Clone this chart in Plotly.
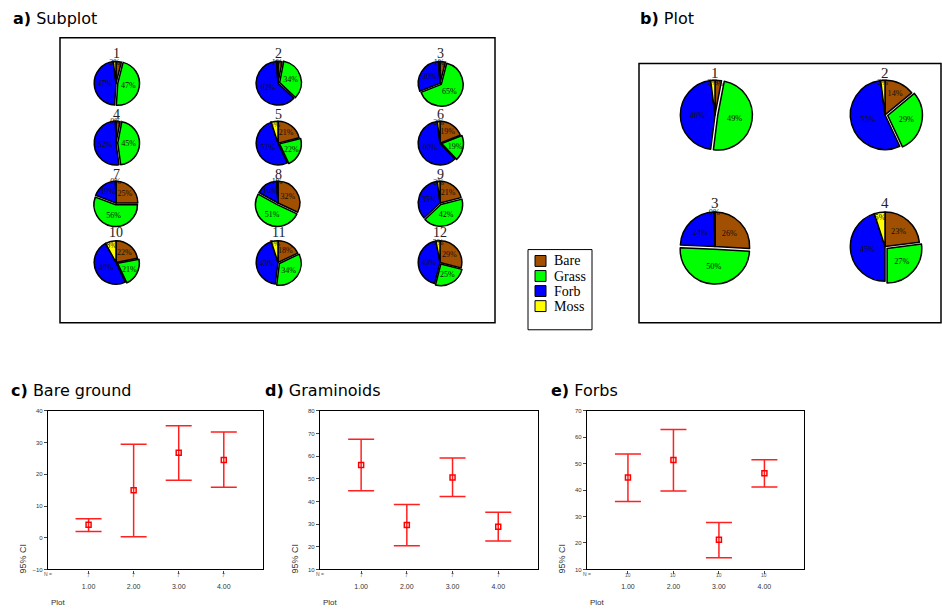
import plotly.graph_objects as go

W, H = 942, 613

# ---------------- data ----------------
cover_labels = ["Bare", "Grass", "Forb", "Moss"]
cover_colors = ["#A05000", "#00FF00", "#0000FF", "#FFFF00"]

subplot_ids = ["1", "2", "3", "4", "5", "6", "7", "8", "9", "10", "11", "12"]
sub_bare = [4, 3, 4, 3, 21, 19, 25, 32, 21, 22, 18, 29]
sub_grass = [47, 34, 65, 45, 22, 19, 56, 51, 42, 21, 34, 25]
sub_forb = [47, 62, 30, 52, 52, 60, 19, 16, 35, 49, 43, 43]
sub_moss = [2, 1, 1, 0.4, 5, 2, 0.4, 1, 2, 8, 5, 3]

plot_ids = ["1", "2", "3", "4"]
plot_bare = [3, 14, 26, 23]
plot_grass = [49, 29, 50, 27]
plot_forb = [46, 55, 24, 45]
plot_moss = [2, 2, 0.4, 5]

plot_cats = ["1.00", "2.00", "3.00", "4.00"]

bare_mean = [4.1, 15.0, 26.8, 24.5]
bare_low = [2.0, 0.3, 18.1, 15.9]
bare_high = [6.0, 29.5, 35.3, 33.4]
bare_n = [7, 7, 7, 7]

gram_mean = [56.1, 29.6, 50.6, 28.9]
gram_low = [44.7, 20.5, 42.2, 22.6]
gram_high = [67.5, 38.7, 59.2, 35.2]
gram_n = [7, 7, 7, 7]

forb_mean = [44.8, 51.4, 21.2, 46.4]
forb_low = [35.7, 39.7, 14.4, 41.2]
forb_high = [53.7, 63.0, 27.8, 51.5]
forb_n = [10, 10, 10, 10]

# ---------------- helpers ----------------
def px(x):
    return x / W

def py(y):
    return 1 - y / H

SERIF = "Liberation Serif"
SANS = "DejaVu Sans"
PULL = 0.08

fig = go.Figure()
annotations = []
shapes = []

def add_pie(cx, cy, r, vals, name, fsize):
    side = 2 * r * (1 + PULL)
    fig.add_trace(go.Pie(
        labels=cover_labels, values=vals, name=name,
        marker=dict(colors=cover_colors, line=dict(color="black", width=1.5)),
        sort=False, direction="clockwise", rotation=0,
        pull=[0, PULL, 0, 0],
        textinfo="percent", texttemplate="%{percent:.0%}",
        textposition="inside", insidetextorientation="horizontal",
        textfont=dict(family=SERIF, size=fsize, color="#111"),
        domain=dict(x=[px(cx - side / 2), px(cx + side / 2)],
                    y=[py(cy + side / 2), py(cy - side / 2)]),
        showlegend=False, hoverinfo="label+percent",
    ))

# subplot pies (panel a)
col_x = [116, 278, 440]
row_y = [81, 141.5, 202, 262]
lab_y = [51, 113, 173, 232]
for i, sid in enumerate(subplot_ids):
    r_i, c_i = divmod(i, 3)
    vals = [sub_bare[i], sub_grass[i], sub_forb[i], sub_moss[i]]
    add_pie(col_x[c_i], row_y[r_i], 22, vals, "Subplot " + sid, 8)
    annotations.append(dict(x=px(col_x[c_i]), y=py(lab_y[r_i]), xref="paper", yref="paper",
                            text=sid, showarrow=False, xanchor="center", yanchor="middle",
                            font=dict(family=SERIF, size=14, color="#222")))

# plot pies (panel b)
bx = [715, 885]
by = [113, 246]
blab = [71, 202]
for i, pid in enumerate(plot_ids):
    r_i, c_i = divmod(i, 2)
    vals = [plot_bare[i], plot_grass[i], plot_forb[i], plot_moss[i]]
    add_pie(bx[c_i], by[r_i], 35, vals, "Plot " + pid, 9)
    annotations.append(dict(x=px(bx[c_i]), y=py(blab[r_i]), xref="paper", yref="paper",
                            text=pid, showarrow=False, xanchor="center", yanchor="middle",
                            font=dict(family=SERIF, size=15, color="#222")))

# panel boxes
shapes.append(dict(type="rect", xref="paper", yref="paper", x0=px(60), x1=px(495),
                   y0=py(323), y1=py(35), line=dict(color="black", width=1.5)))
shapes.append(dict(type="rect", xref="paper", yref="paper", x0=px(639), x1=px(941),
                   y0=py(323), y1=py(61), line=dict(color="black", width=1.5)))

# legend (manual)
shapes.append(dict(type="rect", xref="paper", yref="paper", x0=px(528), x1=px(592),
                   y0=py(330), y1=py(249), line=dict(color="black", width=1)))
for k, (lab, col) in enumerate(zip(cover_labels, cover_colors)):
    y0 = 255 + k * 15.2
    shapes.append(dict(type="rect", xref="paper", yref="paper", x0=px(535), x1=px(546),
                       y0=py(y0 + 11), y1=py(y0), fillcolor=col,
                       line=dict(color="black", width=1)))
    annotations.append(dict(x=px(552), y=py(y0 + 5.5), xref="paper", yref="paper",
                            text=lab, showarrow=False, xanchor="left", yanchor="middle",
                            font=dict(family=SERIF, size=14, color="black")))

# panel titles
def title(x, y, letter, txt):
    annotations.append(dict(x=px(x), y=py(y), xref="paper", yref="paper",
                            text="<b>" + letter + ")</b> " + txt, showarrow=False,
                            xanchor="left", yanchor="middle",
                            font=dict(family=SANS, size=16, color="black")))

title(11, 16, "a", "Subplot")
title(638, 16, "b", "Plot")
title(9, 391, "c", "Bare ground")
title(263, 391, "d", "Graminoids")
title(549, 391, "e", "Forbs")

# ---------------- CI charts ----------------
panels = [
    (bare_mean, bare_low, bare_high, bare_n, [-10, 40], (48, 263), "x", "y"),
    (gram_mean, gram_low, gram_high, gram_n, [10, 80], (320, 538), "x2", "y2"),
    (forb_mean, forb_low, forb_high, forb_n, [10, 70], (587, 804), "x3", "y3"),
]
top, bot = 412, 572
layout_axes = {}
for idx, (m, lo, hi, n, yr, (x0, x1), xa, ya) in enumerate(panels):
    fig.add_trace(go.Scatter(
        x=plot_cats, y=m, mode="markers", xaxis=xa, yaxis=ya,
        marker=dict(symbol="square-open", size=5, color="#FF0000", line=dict(width=1.5)),
        error_y=dict(type="data", symmetric=False,
                     array=[h - v for h, v in zip(hi, m)],
                     arrayminus=[v - l for v, l in zip(m, lo)],
                     color="#FF2020", thickness=1.5, width=13),
        showlegend=False,
    ))
    sfx = "" if idx == 0 else str(idx + 1)
    layout_axes["xaxis" + sfx] = dict(
        domain=[px(x0), px(x1)], anchor=ya, type="category",
        range=[-0.9, 3.87], showline=True, mirror=True, linecolor="black", linewidth=1.2,
        showgrid=False, zeroline=False, ticks="outside", ticklen=3, tickcolor="#444",
        tickfont=dict(family="Liberation Sans", size=7, color="#333"),
        ticklabelstandoff=7,
    )
    layout_axes["yaxis" + sfx] = dict(
        domain=[py(bot), py(top)], anchor=xa, range=yr, dtick=10,
        showline=True, mirror=True, linecolor="black", linewidth=1.2,
        showgrid=False, zeroline=False, ticks="outside", ticklen=3, tickcolor="#444",
        tickfont=dict(family="Liberation Sans", size=6, color="#333"),
    )
    # N = row
    annotations.append(dict(x=px(x0), y=py(577), xref="paper", yref="paper",
                            text="N =", showarrow=False, xanchor="center", yanchor="middle",
                            font=dict(family="Liberation Sans", size=5, color="#555")))
    for k, nv in enumerate(n):
        annotations.append(dict(x=k, y=py(577.5), xref=xa, yref="paper",
                                text=str(nv), showarrow=False, xanchor="center",
                                yanchor="middle",
                                font=dict(family="Liberation Sans", size=5, color="#555")))
    # axis titles
    annotations.append(dict(x=px(x0 - 25), y=py(561), xref="paper", yref="paper",
                            text="95% CI", textangle=-90, showarrow=False,
                            xanchor="center", yanchor="middle",
                            font=dict(family="Liberation Sans", size=9, color="#333")))
    annotations.append(dict(x=px(x0 + 1), y=py(605), xref="paper", yref="paper",
                            text="Plot", showarrow=False, xanchor="left", yanchor="middle",
                            font=dict(family="Liberation Sans", size=8, color="#333")))

fig.update_layout(
    width=W, height=H, margin=dict(l=0, r=0, t=0, b=0),
    paper_bgcolor="white", plot_bgcolor="white",
    annotations=annotations, shapes=shapes,
    uniformtext=dict(minsize=8, mode="show"),
    showlegend=False,
    **layout_axes,
)

fig.write_html("out.html")
